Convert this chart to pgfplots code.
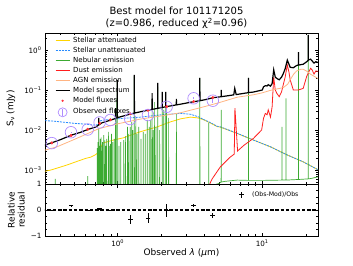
\documentclass[border=0pt]{standalone}
\usepackage{fontspec}
\setmainfont{DejaVu Sans}
\usepackage{pgfplots}
\pgfplotsset{compat=1.18}
\definecolor{stel}{RGB}{255,212,0}
\definecolor{unst}{RGB}{40,140,255}
\definecolor{neb}{RGB}{60,170,50}
\definecolor{dust}{RGB}{255,30,30}
\definecolor{agn}{RGB}{255,180,130}
\definecolor{obs}{RGB}{175,140,255}
\definecolor{modf}{RGB}{255,50,60}
\newcommand\fs[1]{\fontsize{#1}{#1}\selectfont}
\pgfplotsset{
  mysedaxis/.style={
    scale only axis, width=273pt,
    xmin=0.314, xmax=24.3,
    tick align=inside, major tick length=3.5pt, minor tick length=2pt,
    every tick/.style={black, line width=0.5pt},
    axis line style={line width=0.6pt},
    tick label style={font=\fs{7.2}},
    minor xtick={0.4,0.5,0.6,0.7,0.8,0.9,2,3,4,5,6,7,8,9,20},
    xtick={1,10},
  },
  lineleg/.style={legend image code/.code={\draw[##1] (0pt,0pt) -- (14pt,0pt);}},
}
\begin{document}
\begin{tikzpicture}
\useasboundingbox (0,0) rectangle (353pt,265pt);
\node[font=\fontsize{10}{12}\selectfont, align=center] at (176.5pt,247pt) {Best model for 101171205\\(z=0.986, reduced χ\textsuperscript{2}=0.96)};
\begin{axis}[xmode=log, ymode=log, mysedaxis,
  at={(45pt,81pt)}, anchor=south west, height=151pt,
  ymin=4.47e-4, ymax=2.66,
  xticklabels={},
  ytick={0.001,0.01,0.1,1},
  yticklabels={10\textsuperscript{−3},10\textsuperscript{−2},10\textsuperscript{−1},10\textsuperscript{0}},
  minor ytick={0.0005,0.0006,0.0007,0.0008,0.0009,0.002,0.003,0.004,0.005,0.006,0.007,0.008,0.009,0.02,0.03,0.04,0.05,0.06,0.07,0.08,0.09,0.2,0.3,0.4,0.5,0.6,0.7,0.8,0.9,2},
  ylabel={S\textsubscript{ν} (mJy)},
  ylabel style={at={(axis description cs:-0.125,0.5)}, anchor=center, font=\fs{9}},
  legend cell align=left,
  legend style={draw=none, fill=none, at={(axis description cs:0.025,0.985)}, anchor=north west,
    font=\fs{7}, row sep=3.3pt, column sep=3pt,
    nodes={inner sep=0pt, text height=5pt, text depth=1.7pt}},
]
% stellar attenuated
\addplot[stel, line width=0.8pt, lineleg] table {
0.30 0.00090
0.345 0.00100
0.40 0.00118
0.45 0.00135
0.50 0.00155
0.55 0.00175
0.60 0.00195
0.65 0.00210
0.70 0.00240
0.73 0.00270
0.76 0.00360
0.79 0.00470
0.85 0.00510
0.95 0.00570
1.10 0.00640
1.25 0.00760
1.44 0.00910
1.65 0.01050
1.88 0.01200
2.10 0.01400
2.32 0.01600
2.72 0.01900
3.19 0.02100
3.60 0.02000
3.94 0.01800
4.40 0.01480
4.87 0.01220
5.13 0.01180
6.7 0.0082
8.7 0.0056
11.4 0.0038
14.8 0.0024
19.2 0.0016
24.5 0.0010
};
\addlegendentry{Stellar attenuated}
% stellar unattenuated
\addplot[unst, line width=0.8pt, dash pattern=on 2pt off 1pt, lineleg] table {
0.30 0.0172
0.35 0.0168
0.40 0.0160
0.45 0.0153
0.50 0.0147
0.60 0.0140
0.69 0.0133
0.73 0.0136
0.76 0.0170
0.80 0.0178
0.9 0.0185
1.1 0.0196
1.44 0.0210
2.0 0.0240
2.72 0.0260
3.19 0.0248
3.6 0.0215
3.94 0.0182
4.4 0.0152
4.87 0.0124
5.13 0.0120
6.7 0.0083
8.7 0.0056
11.4 0.0038
14.8 0.0024
19.2 0.0016
24.5 0.0010
};
\addlegendentry{Stellar unattenuated}
% nebular
\addplot[neb, line width=0.7pt, lineleg] table {
0.30 1e-4
0.3695 1e-4
0.37 6e-4
0.3705 1e-4
0.619 1e-4
0.62 7e-4
0.621 1e-4
0.721 1e-4
0.722 0.0035
0.723 1e-4
0.729 1e-4
0.730 0.005
0.731 1e-4
0.739 1e-4
0.740 0.011
0.741 1e-4
0.747 1e-4
0.748 0.004
0.749 1e-4
0.755 1e-4
0.756 0.006
0.757 1e-4
0.767 1e-4
0.768 0.0065
0.769 1e-4
0.775 1e-4
0.776 0.003
0.777 1e-4
0.785 1e-4
0.786 0.005
0.787 1e-4
0.799 1e-4
0.800 0.0075
0.801 1e-4
0.814 1e-4
0.815 0.0055
0.816 1e-4
0.825 1e-4
0.826 0.004
0.827 1e-4
0.839 1e-4
0.840 0.006
0.841 1e-4
0.861 1e-4
0.862 0.009
0.863 1e-4
0.874 1e-4
0.875 0.004
0.876 1e-4
0.889 1e-4
0.890 0.0045
0.891 1e-4
0.904 1e-4
0.905 0.008
0.906 1e-4
0.924 1e-4
0.925 0.005
0.926 1e-4
0.944 1e-4
0.945 0.006
0.946 1e-4
0.964 1e-4
0.965 0.030
0.966 1e-4
0.984 1e-4
0.985 0.060
0.986 1e-4
0.993 1e-4
0.994 0.17
0.995 1e-4
1.018 1e-4
1.02 0.004
1.022 1e-4
1.048 1e-4
1.05 0.005
1.052 1e-4
1.098 1e-4
1.10 0.0056
1.102 1e-4
1.128 1e-4
1.13 0.007
1.132 1e-4
1.165 1e-4
1.167 0.012
1.169 1e-4
1.188 1e-4
1.19 0.008
1.192 1e-4
1.218 1e-4
1.22 0.012
1.222 1e-4
1.249 1e-4
1.251 0.016
1.253 1e-4
1.268 1e-4
1.27 0.010
1.272 1e-4
1.301 1e-4
1.303 0.22
1.305 1e-4
1.333 1e-4
1.335 0.020
1.337 1e-4
1.358 1e-4
1.36 0.008
1.362 1e-4
1.398 1e-4
1.40 0.012
1.402 1e-4
1.448 1e-4
1.45 0.006
1.452 1e-4
1.498 1e-4
1.50 0.009
1.502 1e-4
1.548 1e-4
1.55 0.008
1.552 1e-4
1.598 1e-4
1.60 0.018
1.602 1e-4
1.648 1e-4
1.65 0.012
1.652 1e-4
1.688 1e-4
1.69 0.018
1.692 1e-4
1.728 1e-4
1.73 0.060
1.732 1e-4
1.758 1e-4
1.76 0.010
1.762 1e-4
1.798 1e-4
1.80 0.050
1.802 1e-4
1.838 1e-4
1.84 0.012
1.842 1e-4
1.891 1e-4
1.893 0.12
1.895 1e-4
1.948 1e-4
1.95 0.010
1.952 1e-4
2.028 1e-4
2.03 0.050
2.032 1e-4
2.078 1e-4
2.08 0.032
2.082 1e-4
2.149 1e-4
2.151 0.050
2.153 1e-4
2.171 1e-4
2.173 0.030
2.175 1e-4
2.248 1e-4
2.25 0.020
2.252 1e-4
2.543 2e-4
2.546 0.026
2.549 2e-4
3.695 3e-4
3.70 0.20
3.705 3e-4
4.255 4e-4
4.26 0.015
4.265 4e-4
4.6 4.2e-4
5.0 4.6e-4
5.19 5e-4
5.20 0.032
5.21 5e-4
5.5 5.2e-4
6.7 5.6e-4
8.03 5.5e-4
8.04 0.2
8.05 5.5e-4
10 5.5e-4
13.68 5.6e-4
13.7 0.012
13.72 5.6e-4
14.58 5.6e-4
14.6 0.062
14.62 5.6e-4
17.78 5.8e-4
17.8 0.46
17.82 5.8e-4
20.78 6e-4
20.8 2.4
20.82 6e-4
22 6.2e-4
24.5 6.8e-4
};
\addlegendentry{Nebular emission}
% dust
\addplot[dust, line width=0.8pt, lineleg] table {
3.9 0.0002
4.5 0.0006
5.13 0.0012
6.0 0.0021
6.4 0.0025
6.47 0.035
6.75 0.0030
7.5 0.0042
8.7 0.0062
9.9 0.0100
10.2 0.0196
10.5 0.026
10.8 0.024
11.0 0.032
11.4 0.021
11.7 0.038
12.0 0.21
12.3 0.10
12.6 0.083
13.1 0.068
13.6 0.090
14.0 0.14
14.4 0.21
14.9 0.42
15.3 0.28
15.6 0.18
16.4 0.10
17.8 0.10
19.2 0.11
20.3 0.22
21.6 0.35
22.1 0.32
22.8 0.25
23.5 0.30
24.5 0.29
};
\addlegendentry{Dust emission}
% AGN
\addplot[agn, line width=0.8pt, lineleg] table {
0.30 0.0030
0.38 0.0038
0.5 0.0058
0.74 0.0108
1.0 0.0143
1.44 0.0188
2.0 0.0225
2.72 0.0270
3.94 0.0380
5.0 0.048
6.7 0.066
8.7 0.076
10.0 0.085
11.4 0.098
14.0 0.115
15.0 0.140
15.6 0.180
16.5 0.250
17.3 0.300
18.5 0.330
19.2 0.330
20.5 0.290
21.5 0.250
24.5 0.190
};
\addlegendentry{AGN emission}
% model spectrum
\addplot[black, line width=1.2pt, lineleg] table {
0.30 0.0040
0.35 0.0048
0.40 0.0057
0.475 0.0074
0.55 0.0087
0.62 0.0103
0.70 0.0118
0.739 0.0133
0.740 0.020
0.741 0.0134
0.78 0.0152
0.90 0.0178
0.964 0.0194
0.965 0.035
0.966 0.0195
0.993 0.0201
0.994 0.18
0.995 0.0202
1.05 0.0215
1.22 0.0250
1.301 0.0264
1.303 0.24
1.305 0.0265
1.40 0.0280
1.60 0.0310
1.728 0.0327
1.73 0.084
1.732 0.0328
1.891 0.0348
1.893 0.15
1.895 0.0349
2.028 0.0364
2.03 0.09
2.032 0.0365
2.149 0.0381
2.151 0.09
2.153 0.0381
2.18 0.0385
2.543 0.0424
2.546 0.06
2.549 0.0425
2.70 0.0440
3.35 0.0510
3.695 0.0539
3.70 0.20
3.705 0.0540
4.00 0.0570
4.55 0.0640
5.19 0.0679
5.20 0.10
5.21 0.0680
5.5 0.0700
6.35 0.0755
6.45 0.110
6.6 0.0770
6.7 0.0775
8.03 0.0860
8.04 0.20
8.05 0.0861
8.7 0.0890
10.0 0.100
10.2 0.120
10.5 0.128
10.8 0.126
11.0 0.136
11.4 0.125
11.7 0.145
12.0 0.32
12.3 0.21
12.6 0.195
13.1 0.180
13.6 0.21
14.0 0.26
14.4 0.34
14.9 0.56
15.3 0.44
15.6 0.37
16.4 0.36
17.3 0.41
17.78 0.42
17.8 0.89
17.82 0.42
19.2 0.44
20.3 0.51
20.78 0.55
20.8 2.4
20.82 0.56
21.6 0.59
22.8 0.47
23.5 0.51
24.5 0.48
};
\addlegendentry{Model spectrum}
% model fluxes
\addplot[only marks, mark=*, mark size=1.3pt, modf, draw=none,
  legend image code/.code={\fill[modf] (7pt,0pt) circle (1.3pt);}] table {
0.35 0.00475
0.475 0.0073
0.62 0.0104
0.75 0.0147
0.89 0.0180
1.22 0.0254
1.62 0.0310
2.18 0.0384
3.35 0.0515
4.55 0.0648
};
\addlegendentry{Model fluxes}
% observed fluxes
\addplot[only marks, mark=o, mark size=5.8pt, obs, mark options={line width=0.7pt},
  legend image code/.code={\draw[obs, line width=0.7pt] (7pt,0pt) circle (4.5pt); \draw[obs, line width=0.7pt] (7pt,-3.5pt) -- (7pt,3.5pt);},
  error bars/.cd, y dir=both, y explicit, error mark=none,
  error bar style={obs, line width=0.7pt}]
  table[x index=0, y index=1, y error index=2] {
0.35 0.0047 0.0001
0.475 0.0088 0.0001
0.62 0.0103 0.0001
0.75 0.0155 0.0003
0.89 0.0178 0.0002
1.22 0.0188 0.0032
1.62 0.0237 0.0043
2.18 0.0380 0.0095
3.35 0.0620 0.0030
4.55 0.0540 0.0054
};
\addlegendentry{Observed fluxes}
\end{axis}
\begin{axis}[xmode=log, mysedaxis,
  at={(45pt,29pt)}, anchor=south west, height=52pt,
  ymin=-1, ymax=1,
  ytick={-1,0,1}, yticklabels={−1,0,1},
  minor ytick={-0.75,-0.5,-0.25,0.25,0.5,0.75},
  xticklabels={10\textsuperscript{0},10\textsuperscript{1}},
  xlabel={Observed \textit{λ} (\textit{μ}m)},
  xlabel style={at={(axis description cs:0.5,-0.33)}, anchor=center, font=\fs{9}},
  ylabel={Relative\\residual},
  ylabel style={at={(axis description cs:-0.105,0.5)}, anchor=center, align=center, font=\fontsize{9}{10}\selectfont},
  legend style={draw=none, fill=none, at={(axis description cs:0.94,0.9)}, anchor=north east,
    font=\fs{6.2}, column sep=8pt, nodes={inner sep=0pt}},
]
\addplot[black, line width=1.1pt, dash pattern=on 3.5pt off 1.8pt, forget plot] coordinates {(0.3,0) (25,0)};
\addplot[only marks, mark=-, mark size=2.4pt, black, mark options={line width=0.7pt},
  legend image code/.code={\draw[black, line width=0.7pt] (0pt,-3pt) -- (0pt,3pt); \draw[black, line width=0.7pt] (-2.2pt,0pt) -- (2.2pt,0pt);},
  error bars/.cd, y dir=both, y explicit, error mark=none,
  error bar style={black, line width=0.7pt}]
  table[x index=0, y index=1, y error index=2] {
0.35 -0.01 0.02
0.475 0.17 0.01
0.62 -0.01 0.01
0.75 0.05 0.02
0.89 -0.01 0.01
1.22 -0.35 0.17
1.62 -0.31 0.18
2.18 -0.01 0.25
3.35 0.17 0.05
4.55 -0.20 0.10
};
\addlegendentry{(Obs-Mod)/Obs}
\end{axis}
\end{tikzpicture}
\end{document}
